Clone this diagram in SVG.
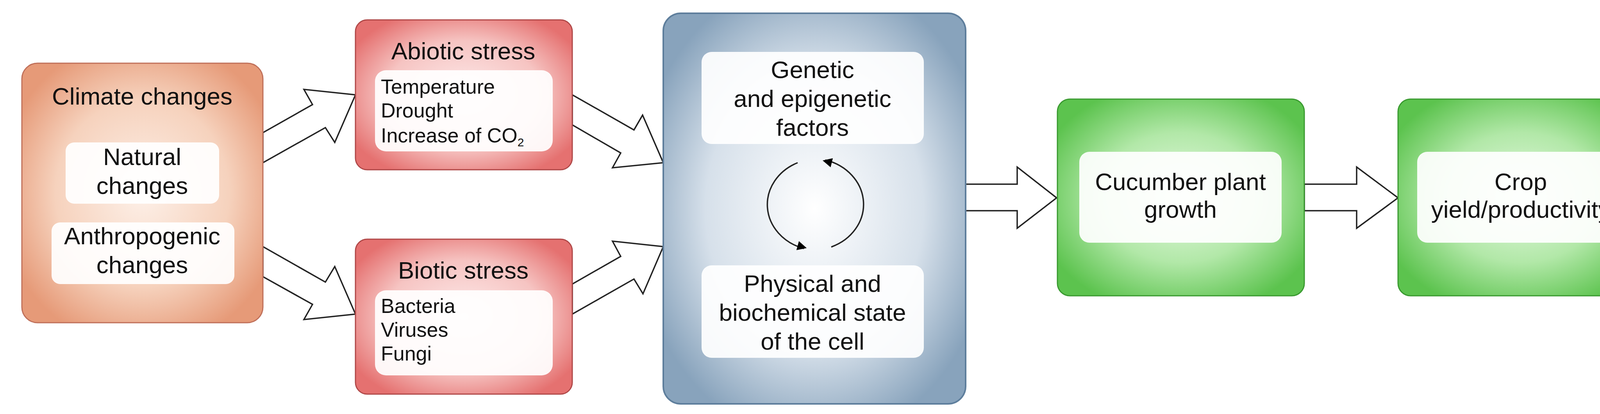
<svg xmlns="http://www.w3.org/2000/svg" width="4246" height="1061" viewBox="0 0 4246 1061">
<defs>
<radialGradient id="gO" cx="0.5" cy="0.5" r="0.6"><stop offset="0" stop-color="#fdf0e8"/><stop offset="0.6" stop-color="#f6d2bd"/><stop offset="1" stop-color="#e69a78"/></radialGradient>
<radialGradient id="gR" cx="0.5" cy="0.5" r="0.6"><stop offset="0" stop-color="#fdeaea"/><stop offset="0.6" stop-color="#f6c4c2"/><stop offset="1" stop-color="#e57170"/></radialGradient>
<radialGradient id="gB" cx="0.5" cy="0.5" r="0.6"><stop offset="0" stop-color="#ffffff"/><stop offset="0.6" stop-color="#d6e0ea"/><stop offset="1" stop-color="#88a3bc"/></radialGradient>
<radialGradient id="gG" cx="0.5" cy="0.5" r="0.6"><stop offset="0" stop-color="#e6f9e2"/><stop offset="0.55" stop-color="#b2e8a8"/><stop offset="1" stop-color="#5cc34e"/></radialGradient>
<marker id="ah" viewBox="0 0 10 10" refX="9" refY="5" markerWidth="6" markerHeight="6" orient="auto" markerUnits="userSpaceOnUse" style="overflow:visible"><path d="M0,0 L10,5 L0,10 z" fill="#000" transform="scale(4) translate(-5,-5)"/></marker>
</defs>
<style>
text{font-family:"Liberation Sans",Arial,sans-serif;fill:#111}
.t{font-size:62px;text-anchor:middle}
.l{font-size:52px}
.in{fill:#fff;opacity:0.92}
.ar{fill:#fff;stroke:#222;stroke-width:3.5;stroke-linejoin:miter}
.loop{fill:none;stroke:#222;stroke-width:3.5}
</style>
<rect width="4246" height="1061" fill="#fff"/>

<g id="connectors">
<polygon class="ar" points="673,340 800,268 778,229 910,243 857,365 833,327 673,417"/>
<polygon class="ar" points="673,632 833,723 857,683 910,805 778,819 800,780 673,709"/>
<polygon class="ar" points="1465,243 1623,333 1645,295 1698,417 1568,430 1589,392 1465,320"/>
<polygon class="ar" points="1465,728 1589,657 1568,618 1698,632 1646,753 1623,715 1465,805"/>
<polygon class="ar" points="2472,472 2604,472 2604,428 2705,507 2604,585 2604,540 2472,540"/>
<polygon class="ar" points="3339,472 3473,472 3473,428 3579,507 3473,585 3473,540 3339,540"/>
</g>

<g id="climate">
<rect x="56" y="162" width="617" height="665" rx="40" fill="url(#gO)" stroke="#c0705a" stroke-width="3"/>
<text class="t" x="364" y="268">Climate changes</text>
<rect class="in" x="168" y="365" width="393" height="157" rx="22"/>
<text class="t" x="364" y="423">Natural</text>
<text class="t" x="364" y="497">changes</text>
<rect class="in" x="132" y="570" width="468" height="158" rx="22"/>
<text class="t" x="364" y="626">Anthropogenic</text>
<text class="t" x="364" y="700">changes</text>
</g>

<g id="abiotic">
<rect x="910" y="51" width="555" height="384" rx="30" fill="url(#gR)" stroke="#b04848" stroke-width="3"/>
<text class="t" x="1186" y="152">Abiotic stress</text>
<rect class="in" x="960" y="180" width="455" height="208" rx="28"/>
<text class="l" x="975" y="240">Temperature</text>
<text class="l" x="975" y="301">Drought</text>
<text class="l" x="975" y="365">Increase of CO<tspan font-size="30" dy="10">2</tspan></text>
</g>

<g id="biotic">
<rect x="910" y="613" width="555" height="397" rx="30" fill="url(#gR)" stroke="#b04848" stroke-width="3"/>
<text class="t" x="1186" y="714">Biotic stress</text>
<rect class="in" x="960" y="744" width="455" height="218" rx="28"/>
<text class="l" x="975" y="802">Bacteria</text>
<text class="l" x="975" y="863">Viruses</text>
<text class="l" x="975" y="924">Fungi</text>
</g>

<g id="cell">
<rect x="1698" y="34" width="774" height="1001" rx="45" fill="url(#gB)" stroke="#5e7e9c" stroke-width="4"/>
<rect class="in" x="1796" y="133" width="569" height="236" rx="26"/>
<text class="t" x="2080" y="200">Genetic</text>
<text class="t" x="2080" y="274">and epigenetic</text>
<text class="t" x="2080" y="348">factors</text>
<path class="loop" d="M2042,417 A133,118 0 0 0 2058,637" marker-end="url(#ah)"/>
<path class="loop" d="M2128,633 A133,118 0 0 0 2113,410" marker-end="url(#ah)"/>
<rect class="in" x="1796" y="680" width="569" height="237" rx="26"/>
<text class="t" x="2080" y="748">Physical and</text>
<text class="t" x="2080" y="822">biochemical state</text>
<text class="t" x="2080" y="896">of the cell</text>
</g>

<g id="growth">
<rect x="2707" y="254" width="632" height="504" rx="32" fill="url(#gG)" stroke="#3a9a30" stroke-width="3"/>
<rect class="in" x="2763" y="389" width="518" height="233" rx="26"/>
<text class="t" x="3022" y="487">Cucumber plant</text>
<text class="t" x="3022" y="558">growth</text>
</g>

<g id="yield">
<rect x="3579" y="254" width="630" height="504" rx="32" fill="url(#gG)" stroke="#3a9a30" stroke-width="3"/>
<rect class="in" x="3628" y="389" width="530" height="233" rx="26"/>
<text class="t" x="3893" y="487">Crop</text>
<text class="t" x="3893" y="558">yield/productivity</text>
</g>
</svg>
